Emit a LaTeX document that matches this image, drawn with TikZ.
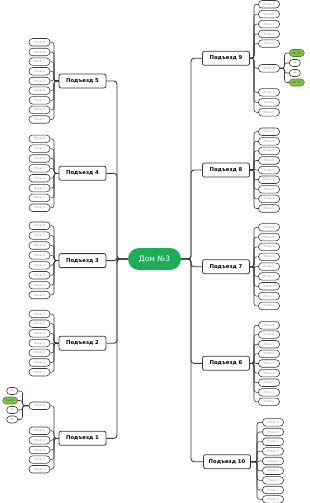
\documentclass[tikz,border=0pt]{standalone}
\usepackage{fontspec}
\setmainfont{DejaVu Sans}
\definecolor{rootgreen}{HTML}{1BAE57}
\definecolor{aptgreen}{HTML}{7DC242}
\definecolor{aptdark}{HTML}{4E8A22}
\definecolor{lineC}{HTML}{3A3A3A}
\definecolor{flText}{HTML}{9A9A9A}
\tikzset{
  root/.style={rounded corners=11pt, fill=rootgreen, text=white, minimum width=53pt, minimum height=22pt, inner sep=0pt, font=\fontsize{7.5}{8}\selectfont},
  pod/.style={draw=lineC, line width=0.8pt, fill=white, rounded corners=2pt, minimum width=47pt, minimum height=14pt, inner sep=0pt, font=\bfseries\fontsize{5.3}{6}\selectfont},
  fl/.style={draw=lineC, line width=0.6pt, fill=white, rounded corners=3.5pt, minimum width=21pt, minimum height=7.5pt, inner sep=0pt, text=flText, font=\fontsize{3}{3}\selectfont},
  apt/.style={fl, minimum width=11pt, minimum height=7pt},
  aptg/.style={apt, minimum width=15pt, fill=aptgreen, draw=aptdark, text=black!70},
  conn/.style={draw=lineC, line width=0.9pt, rounded corners=3pt},
  sconn/.style={draw=lineC, line width=0.6pt, rounded corners=2.5pt}
}
\begin{document}
\begin{tikzpicture}[x=1pt,y=-1pt]
\useasboundingbox (0,0) rectangle (310,503);
\node[root] (root) at (154.5,259) {Дом №3};
% buses
\coordinate (bL) at (117,0);
\coordinate (bR) at (191,0);
\coordinate (bLf) at (54,0);
\coordinate (bRf) at (254,0);
\coordinate (bRt) at (257,0);
\coordinate (bRa) at (284.5,0);
\coordinate (bLa) at (22.5,0);
% left entrances
\node[pod] (p5) at (82.5,81) {Подъезд 5};
\node[pod] (p4) at (82.5,173.3) {Подъезд 4};
\node[pod] (p3) at (82.5,260.6) {Подъезд 3};
\node[pod] (p2) at (82.5,343.2) {Подъезд 2};
\node[pod] (p1) at (82.5,438.3) {Подъезд 1};
% right entrances
\node[pod] (p9) at (226,58.3) {Подъезд 9};
\node[pod] (p8) at (226,170) {Подъезд 8};
\node[pod] (p7) at (226,266.7) {Подъезд 7};
\node[pod] (p6) at (226,363.3) {Подъезд 6};
\node[pod] (p10) at (227,461.7) {Подъезд 10};
\foreach \p in {p5,p4,p3,p2,p1}
  \draw[conn] (root.west) -- (root.west -| bL) |- (\p.east);
\foreach \p in {p9,p8,p7,p6,p10}
  \draw[conn] (root.east) -- (root.east -| bR) |- (\p.west);
% left floors
\foreach \n/\y in {9/42.3,8/52,7/61.7,6/71.3,5/81,4/90.6,3/100.3,2/109.9,1/119.5}{
  \node[fl] (p5f\n) at (39.5,\y) {Этаж \n};
  \draw[sconn] (p5.west) -- (p5.west -| bLf) |- (p5f\n.east);}
\foreach \n/\y in {8/138.8,7/148.65,6/158.5,5/168.35,4/178.2,3/188.05,2/197.9,1/207.75}{
  \node[fl] (p4f\n) at (39.5,\y) {Этаж \n};
  \draw[sconn] (p4.west) -- (p4.west -| bLf) |- (p4f\n.east);}
\foreach \n/\y in {8/225.7,7/235.6,6/245.5,5/255.4,4/265.3,3/275.2,2/285.1,1/295}{
  \node[fl] (p3f\n) at (39.5,\y) {Этаж \n};
  \draw[sconn] (p3.west) -- (p3.west -| bLf) |- (p3f\n.east);}
\foreach \n/\y in {7/314,6/323.7,5/333.4,4/343.1,3/352.8,2/362.5,1/372.2}{
  \node[fl] (p2f\n) at (39.5,\y) {Этаж \n};
  \draw[sconn] (p2.west) -- (p2.west -| bLf) |- (p2f\n.east);}
\foreach \n/\y in {6/405.7,5/430.7,4/440.3,3/450,2/459.6,1/469.2}{
  \node[fl] (p1f\n) at (39.5,\y) {Этаж \n};
  \draw[sconn] (p1.west) -- (p1.west -| bLf) |- (p1f\n.east);}
% right floors
\foreach \n/\y in {9/4.3,8/14.2,7/24.1,6/34,5/43.6,4/68.3,3/92.3,2/102.3,1/112.3}{
  \node[fl] (p9f\n) at (269,\y) {Этаж \n};
  \draw[sconn] (p9.east) -- (p9.east -| bRf) |- (p9f\n.west);}
\foreach \n/\y in {9/131.7,8/141.3,7/150.9,6/160.5,5/170.1,4/179.7,3/189.3,2/198.9,1/208.5}{
  \node[fl] (p8f\n) at (269,\y) {Этаж \n};
  \draw[sconn] (p8.east) -- (p8.east -| bRf) |- (p8f\n.west);}
\foreach \n/\y in {9/227.3,8/237.1,7/246.9,6/256.8,5/266.6,4/276.4,3/286.2,2/296.1,1/305.9}{
  \node[fl] (p7f\n) at (269,\y) {Этаж \n};
  \draw[sconn] (p7.east) -- (p7.east -| bRf) |- (p7f\n.west);}
\foreach \n/\y in {9/325.3,8/334.6,7/344.2,6/353.8,5/363.5,4/373.1,3/382.7,2/392.3,1/401.8}{
  \node[fl] (p6f\n) at (269,\y) {Этаж \n};
  \draw[sconn] (p6.east) -- (p6.east -| bRf) |- (p6f\n.west);}
\foreach \n/\y in {9/422.3,8/432,7/441.7,6/451.3,5/461,4/470.7,3/480.3,2/490,1/499.3}{
  \node[fl] (p10f\n) at (273,\y) {Этаж \n};
  \draw[sconn] (p10.east) -- (p10.east -| bRt) |- (p10f\n.west);}
% apartments, entrance 9, floor 4
\node[aptg, anchor=west] (a91) at (289,53) {кв 36};
\node[apt, anchor=west] (a92) at (289,63) {кв};
\node[apt, anchor=west] (a93) at (289,73) {кв};
\node[aptg, anchor=west] (a94) at (289,82.5) {кв 33};
\foreach \a in {a91,a92,a93,a94}
  \draw[sconn] (p9f4.east) -- (p9f4.east -| bRa) |- (\a.west);
% apartments, entrance 1, floor 6
\node[apt, anchor=east] (a11) at (18,391) {кв};
\node[aptg, anchor=east] (a12) at (18,400.5) {кв 21};
\node[apt, anchor=east] (a13) at (18,410) {кв};
\node[apt, anchor=east] (a14) at (18,419.5) {кв};
\foreach \a in {a11,a12,a13,a14}
  \draw[sconn] (p1f6.west) -- (p1f6.west -| bLa) |- (\a.east);
\end{tikzpicture}
\end{document}
